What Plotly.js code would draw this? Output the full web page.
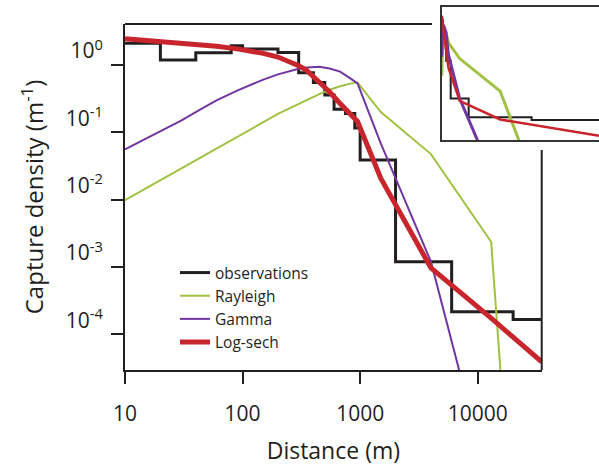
<!DOCTYPE html>
<html>
<head>
<meta charset="utf-8">
<script src="https://cdn.plot.ly/plotly-3.0.1.min.js"></script>
<style>html,body{margin:0;padding:0;background:#fff;}#chart{width:599px;height:466px;}</style>
</head>
<body>
<div id="chart"></div>
<script>
// Observations histogram: bin edges (m) and capture density per bin (m^-1)
const obsEdges = [10, 20, 40, 80, 100, 200, 300, 400, 500, 600, 750, 900, 1000, 2000, 6000, 20000, 35000];
const obsDensity = [2.10, 1.19, 1.52, 1.94, 1.73, 1.54, 0.77, 0.55, 0.36, 0.22, 0.19, 0.116, 0.039, 0.0012, 0.000216, 0.000166, 0.000166];

// Model curves read at these distances (m)
const modelX = [10, 15, 20, 30, 45, 60, 90, 120, 150, 200, 250, 300, 350, 450, 550, 675, 825, 950, 1500, 4000, 13000, 35000];
const rayleigh = [0.00986, 0.0147, 0.0196, 0.0293, 0.0437, 0.058, 0.0867, 0.115, 0.143, 0.188, 0.228, 0.267, 0.305, 0.37, 0.43, 0.485, 0.53, 0.55, 0.20, 0.0476, 0.00237, 1e-13];
const gamma = [0.0559, 0.080, 0.105, 0.150, 0.225, 0.298, 0.418, 0.522, 0.607, 0.727, 0.818, 0.882, 0.918, 0.944, 0.89, 0.80, 0.634, 0.535, 0.068, 0.0012, 4.4e-7, 1e-16];
const logsech = [2.46, 2.33, 2.25, 2.13, 2.00, 1.90, 1.74, 1.61, 1.49, 1.315, 1.146, 0.98, 0.836, 0.556, 0.398, 0.269, 0.187, 0.145, 0.0207, 0.00097, 0.000174, 3.9e-5];

const xTickVals = [10, 100, 1000, 10000];
const xTickText = ['10', '100', '1000', '10000'];
const yTickVals = [1e-4, 1e-3, 1e-2, 1e-1, 1];
const yTickText = ['10<sup>-4</sup>', '10<sup>-3</sup>', '10<sup>-2</sup>', '10<sup>-1</sup>', '10<sup>0</sup>'];

const C_BLACK = '#231f20', C_GREEN = '#a0c142', C_PURPLE = '#7236a0', C_RED = '#c9252c';
const FONT = 'Open Sans, Noto Sans, sans-serif';

const traces = [
  {x: obsEdges, y: obsDensity, xaxis: 'x', yaxis: 'y', mode: 'lines', name: 'observations',
   line: {color: C_BLACK, width: 3, shape: 'hv'}},
  {x: modelX, y: rayleigh, xaxis: 'x', yaxis: 'y', mode: 'lines', name: 'Rayleigh',
   line: {color: C_GREEN, width: 2}},
  {x: modelX, y: gamma, xaxis: 'x', yaxis: 'y', mode: 'lines', name: 'Gamma',
   line: {color: C_PURPLE, width: 2}},
  {x: modelX, y: logsech, xaxis: 'x', yaxis: 'y', mode: 'lines', name: 'Log-sech',
   line: {color: C_RED, width: 5}},
  // inset (linear distance)
  {x: obsEdges, y: obsDensity, xaxis: 'x2', yaxis: 'y2', mode: 'lines', showlegend: false,
   line: {color: C_BLACK, width: 2, shape: 'hv'}},
  {x: modelX, y: rayleigh, xaxis: 'x2', yaxis: 'y2', mode: 'lines', showlegend: false,
   line: {color: C_GREEN, width: 3}},
  {x: modelX, y: gamma, xaxis: 'x2', yaxis: 'y2', mode: 'lines', showlegend: false,
   line: {color: C_PURPLE, width: 3}},
  {x: modelX, y: logsech, xaxis: 'x2', yaxis: 'y2', mode: 'lines', showlegend: false,
   line: {color: C_RED, width: 2.5}}
];

const layout = {
  width: 599, height: 466,
  margin: {l: 0, r: 0, t: 0, b: 0},
  paper_bgcolor: '#ffffff', plot_bgcolor: '#ffffff',
  font: {family: FONT, color: C_BLACK},
  showlegend: true,
  legend: {x: 175/599, y: (466-256)/466, xanchor: 'left', yanchor: 'top',
           bgcolor: 'rgba(0,0,0,0)', font: {family: FONT, size: 15.5, color: C_BLACK}},
  xaxis: {
    type: 'log', range: [1, Math.log10(35000)], domain: [125/599, 541.7/599], anchor: 'y',
    tickvals: xTickVals, ticktext: xTickText, ticks: 'outside', ticklen: 12, tickwidth: 2,
    tickcolor: C_BLACK, showline: true, linewidth: 2, linecolor: C_BLACK,
    showgrid: false, zeroline: false, ticklabelstandoff: 12,
    tickfont: {family: FONT, size: 21, color: C_BLACK},
    title: {text: 'Distance (m)', font: {family: FONT, size: 23, color: C_BLACK}, standoff: 19}
  },
  yaxis: {
    type: 'log', range: [-4.53, 0.61], domain: [(466-370)/466, (466-24)/466], anchor: 'x',
    tickvals: yTickVals, ticktext: yTickText, ticks: 'outside', ticklen: 12, tickwidth: 2,
    tickcolor: C_BLACK, showline: true, linewidth: 2, linecolor: C_BLACK,
    showgrid: false, zeroline: false, ticklabelshift: -14, ticklabelstandoff: 4,
    tickfont: {family: FONT, size: 21, color: C_BLACK},
    title: {text: 'Capture density (m<sup>-1</sup>)', font: {family: FONT, size: 24, color: C_BLACK}, standoff: 15}
  },
  xaxis2: {
    type: 'linear', range: [0, 35000], domain: [441.7/599, 1], anchor: 'y2',
    showticklabels: false, ticks: '', showgrid: false, zeroline: false,
    showline: true, mirror: true, linewidth: 2, linecolor: '#333333'
  },
  yaxis2: {
    type: 'log', range: [-4.58, 0.74], domain: [(466-140)/466, (466-7)/466], anchor: 'x2',
    showticklabels: false, ticks: '', showgrid: false, zeroline: false,
    showline: true, mirror: false, linewidth: 2, linecolor: '#333333'
  },
  shapes: [
    {type: 'line', xref: 'x domain', yref: 'y domain', x0: 0, x1: (432-125)/416.7, y0: 1, y1: 1,
     line: {color: C_BLACK, width: 2}},
    {type: 'line', xref: 'x domain', yref: 'y domain', x0: 1, x1: 1, y0: 0, y1: (370-150)/346,
     line: {color: C_BLACK, width: 2}}
  ]
};

Plotly.newPlot('chart', traces, layout, {displayModeBar: false, staticPlot: true});
</script>
</body>
</html>
